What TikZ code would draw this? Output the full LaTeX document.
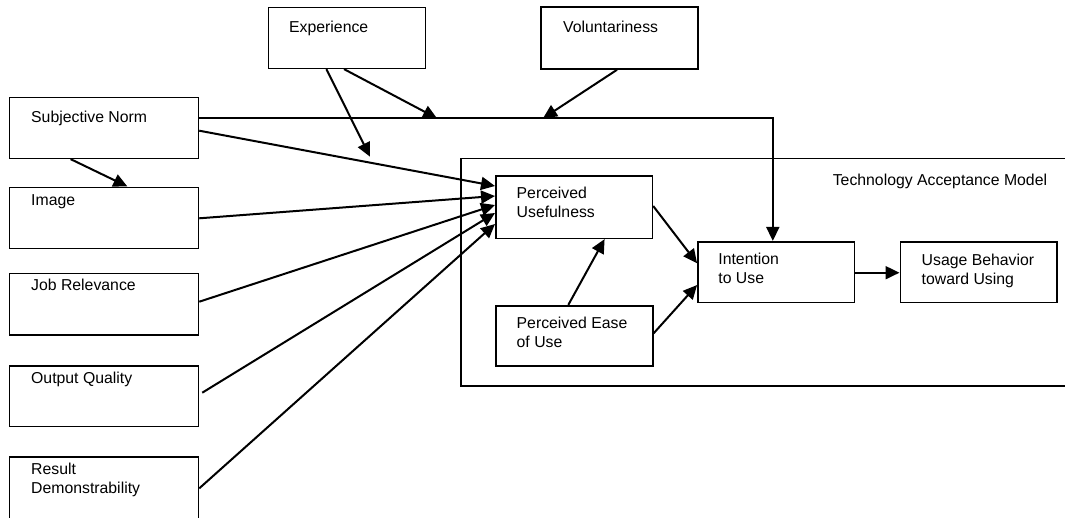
\documentclass[tikz,border=0pt]{standalone}
\usepackage{fontspec}
\setmainfont{Liberation Sans}
\usetikzlibrary{arrows.meta}
\begin{document}
\begin{tikzpicture}[x=1pt,y=-1pt,
  box/.style={draw, line width=1.6pt, inner sep=0pt},
  lbl/.style={anchor=north west, inner sep=0pt, align=left, font=\fontsize{15.8}{18.7}\selectfont},
  conn/.style={line width=2pt, -{Triangle[length=14pt,width=13pt]}}]
\useasboundingbox (0,0) rectangle (1065,517);
% frame of TAM
\node[box, minimum width=609.3pt, minimum height=227.7pt] (tam) at (765.35,272.15) {};
\node[lbl] (taml) at (832.6,174) {Technology Acceptance Model};
% left boxes
\node[box, minimum width=156.7pt, minimum height=61pt] (exp) at (347,37.8) {};
\node[lbl] (expl) at (289,20.7) {Experience};
\node[box, minimum width=157pt, minimum height=62pt] (vol) at (619.5,38) {};
\node[lbl] (voll) at (563,20.7) {Voluntariness};
\node[box, minimum width=188.9pt, minimum height=61pt] (sn) at (104,127.8) {};
\node[lbl] (snl) at (31,111) {Subjective Norm};
\node[box, minimum width=188.9pt, minimum height=61pt] (img) at (104,217.8) {};
\node[lbl] (imgl) at (31,194) {Image};
\node[box, minimum width=188.9pt, minimum height=61.7pt] (jr) at (104,304.2) {};
\node[lbl] (jrl) at (31,279.3) {Job Relevance};
\node[box, minimum width=188.9pt, minimum height=60.7pt] (oq) at (104,396.3) {};
\node[lbl] (oql) at (31,372.3) {Output Quality};
\node[box, minimum width=188.9pt, minimum height=63.3pt] (rd) at (104,488.35) {};
\node[lbl] (rdl) at (31,463) {Result\\Demonstrability};
% TAM boxes
\node[box, minimum width=156.6pt, minimum height=62.6pt] (pu) at (574.1,207) {};
\node[lbl] (pul) at (516.5,187.3) {Perceived\\Usefulness};
\node[box, minimum width=157pt, minimum height=60.3pt] (peu) at (574.3,335.85) {};
\node[lbl] (peul) at (516.5,317.3) {Perceived Ease\\of Use};
\node[box, minimum width=156.6pt, minimum height=60.6pt] (iu) at (776.2,272) {};
\node[lbl] (iul) at (718.2,253.3) {Intention\\to Use};
\node[box, minimum width=156.6pt, minimum height=60.6pt] (ub) at (978.6,272) {};
\node[lbl] (ubl) at (921.5,254) {Usage Behavior\\toward Using};
% free ends
\coordinate (expend) at (370,156.7);
\coordinate (expline) at (437,118.3);
\coordinate (volline) at (543,118.3);
% connectors
\draw[conn] ([yshift=9.5pt]sn.east) -| ([xshift=-3.4pt]iu.north);
\draw[conn] ([xshift=-20.6pt]exp.south) -- (expend);
\draw[conn] ([xshift=-3pt]exp.south) -- (expline);
\draw[conn] ([xshift=-2.5pt]vol.south) -- (volline);
\draw[conn] ([xshift=-33.4pt]sn.south) -- ([xshift=23.4pt]img.north);
\draw[conn] ([yshift=-2.9pt]sn.east) -- ([yshift=21pt]pu.west);
\draw[conn] ([yshift=-0.5pt]img.east) -- ([yshift=11pt]pu.west);
\draw[conn] ([yshift=2.5pt]jr.east) -- ([yshift=2pt]pu.west);
\draw[conn] ([xshift=3pt,yshift=3.6pt]oq.east) -- ([yshift=-6pt]pu.west);
\draw[conn] (rd.east) -- ([yshift=-17pt]pu.west);
\draw[conn] ([yshift=1pt]pu.east) -- ([yshift=8.7pt]iu.west);
\draw[conn] ([xshift=-6pt]peu.north) -- ([xshift=30.5pt]pu.south);
\draw[conn] ([yshift=2.5pt]peu.east) -- ([yshift=-13pt]iu.west);
\draw[conn] ([yshift=-0.7pt]iu.east) -- ([yshift=-0.7pt]ub.west);
\end{tikzpicture}
\end{document}
